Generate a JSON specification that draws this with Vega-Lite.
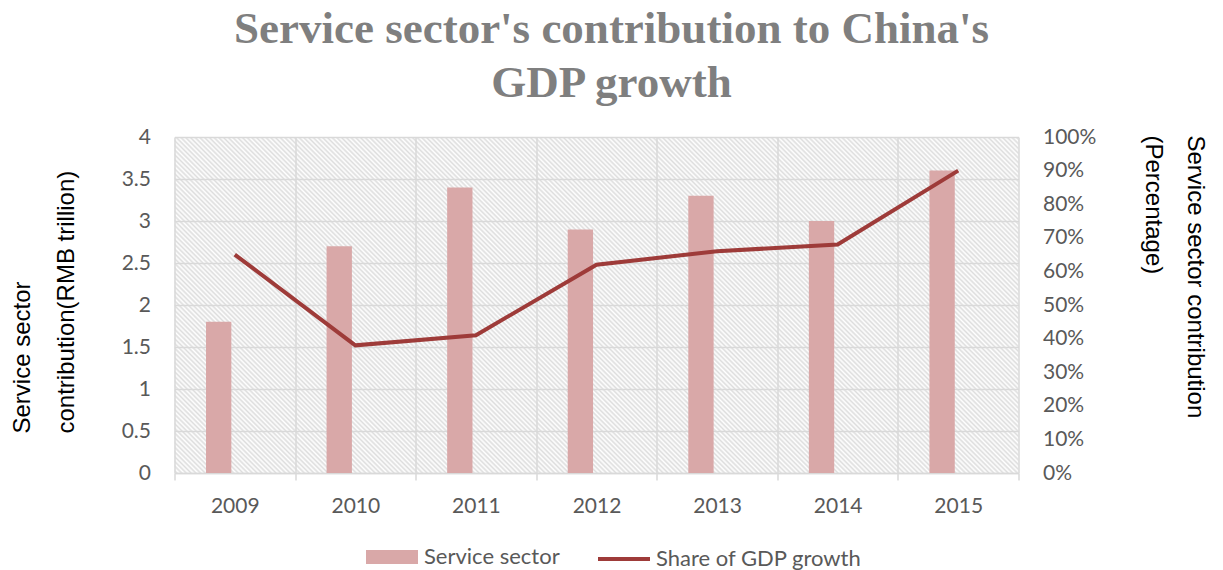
{
  "$schema": "https://vega.github.io/schema/vega-lite/v6.json",
  "width": 844,
  "height": 336,
  "autosize": "none",
  "padding": {"left": 174.5, "top": 137, "right": 204.5, "bottom": 97},
  "background": "#ffffff",
  "title": {
    "text": ["Service sector's contribution to China's", "GDP growth"],
    "font": "Liberation Serif",
    "fontSize": 45,
    "fontWeight": "bold",
    "color": "#7f7f7f",
    "lineHeight": 54,
    "anchor": "middle",
    "frame": "group",
    "dx": 15,
    "offset": 20
  },
  "data": {
    "values": [
      {"year": "2009", "service": 1.8, "share": 0.65},
      {"year": "2010", "service": 2.7, "share": 0.38},
      {"year": "2011", "service": 3.4, "share": 0.41},
      {"year": "2012", "service": 2.9, "share": 0.62},
      {"year": "2013", "service": 3.3, "share": 0.66},
      {"year": "2014", "service": 3.0, "share": 0.68},
      {"year": "2015", "service": 3.6, "share": 0.9}
    ]
  },
  "encoding": {
    "x": {
      "field": "year",
      "type": "nominal",
      "scale": {"paddingInner": 0, "paddingOuter": 0},
      "axis": {
        "title": null,
        "labelAngle": 0,
        "labelFont": "Lato",
        "labelFontSize": 21,
        "labelColor": "#595959",
        "labelPadding": 15,
        "tickBand": "extent",
        "ticks": true,
        "tickSize": 7,
        "tickColor": "#d9d9d9",
        "tickWidth": 1.5,
        "domainColor": "#d9d9d9",
        "domainWidth": 1.5,
        "grid": true,
        "gridColor": "#d9d9d9",
        "gridWidth": 1.5
      }
    }
  },
  "layer": [
    {
      "mark": {"type": "bar"},
      "encoding": {
        "xOffset": {
          "datum": "Service sector",
          "scale": {"domain": ["Service sector", "Share of GDP growth"], "paddingInner": 0.214, "paddingOuter": 0.978}
        },
        "y": {
          "field": "service",
          "type": "quantitative",
          "scale": {"domain": [0, 4], "nice": false},
          "axis": {
            "values": [0, 0.5, 1, 1.5, 2, 2.5, 3, 3.5, 4],
            "format": "~g",
            "orient": "left",
            "domain": false,
            "ticks": false,
            "tickSize": 0,
            "labelPadding": 24,
            "labelFont": "Lato",
            "labelFontSize": 21,
            "labelColor": "#595959",
            "grid": true,
            "gridColor": "#d9d9d9",
            "gridWidth": 1.5,
            "title": ["Service sector", "contribution(RMB trillion)"],
            "titleFont": "Liberation Sans",
            "titleFontSize": 24,
            "titleFontWeight": "normal",
            "titleColor": "#000000",
            "titleAngle": -90,
            "titleAlign": "left",
            "titleBaseline": "alphabetic",
            "titleLineHeight": 44,
            "titleX": -145.5,
            "titleY": 296
          }
        },
        "color": {
          "datum": "Service sector",
          "scale": {"domain": ["Service sector"], "range": ["#d9a8a8"]},
          "legend": {
            "title": null,
            "orient": "none",
            "legendX": 191.5,
            "legendY": 394,
            "padding": 0,
            "symbolType": "M-1,-0.27L1,-0.27L1,0.27L-1,0.27Z",
            "symbolSize": 2704,
            "symbolStrokeWidth": 0,
            "labelFont": "Lato",
            "labelFontSize": 22,
            "labelColor": "#595959",
            "labelOffset": 6,
            "labelLimit": 400
          }
        }
      }
    },
    {
      "mark": {"type": "line", "strokeWidth": 4},
      "encoding": {
        "y": {
          "field": "share",
          "type": "quantitative",
          "scale": {"domain": [0, 1], "nice": false},
          "axis": {
            "values": [0, 0.1, 0.2, 0.3, 0.4, 0.5, 0.6, 0.7, 0.8, 0.9, 1],
            "format": ".0%",
            "orient": "right",
            "domain": false,
            "ticks": false,
            "tickSize": 0,
            "grid": false,
            "labelPadding": 24,
            "labelFont": "Lato",
            "labelFontSize": 21,
            "labelColor": "#595959",
            "title": ["Service sector contribution", "(Percentage)"],
            "titleFont": "Liberation Sans",
            "titleFontSize": 24,
            "titleFontWeight": "normal",
            "titleColor": "#000000",
            "titleAngle": 90,
            "titleAlign": "left",
            "titleBaseline": "alphabetic",
            "titleLineHeight": 42,
            "titleX": 169,
            "titleY": -2
          }
        },
        "stroke": {
          "datum": "Share of GDP growth",
          "scale": {"domain": ["Share of GDP growth"], "range": ["#9e3b39"]},
          "legend": {
            "title": null,
            "orient": "none",
            "legendX": 421.5,
            "legendY": 394,
            "padding": 0,
            "symbolType": "stroke",
            "symbolSize": 2704,
            "symbolStrokeWidth": 4,
            "labelFont": "Lato",
            "labelFontSize": 22,
            "labelColor": "#595959",
            "labelOffset": 4,
            "labelLimit": 400
          }
        }
      }
    }
  ],
  "resolve": {"scale": {"y": "independent"}},
  "config": {
    "view": {
      "stroke": null,
      "fill": {
        "gradient": "linear",
        "x1": 0, "y1": 1, "x2": 1.207, "y2": 0.519,
        "stops": [
{"offset":0,"color":"#fff"},{"offset":0.002,"color":"#ddd"},{"offset":0.004,"color":"#fff"},{"offset":0.006,"color":"#ddd"},{"offset":0.008,"color":"#fff"},{"offset":0.01,"color":"#ddd"},{"offset":0.012,"color":"#fff"},{"offset":0.014,"color":"#ddd"},{"offset":0.016,"color":"#fff"},{"offset":0.018,"color":"#ddd"},
{"offset":0.02,"color":"#fff"},{"offset":0.022,"color":"#ddd"},{"offset":0.024,"color":"#fff"},{"offset":0.026,"color":"#ddd"},{"offset":0.028,"color":"#fff"},{"offset":0.03,"color":"#ddd"},{"offset":0.032,"color":"#fff"},{"offset":0.034,"color":"#ddd"},{"offset":0.036,"color":"#fff"},{"offset":0.038,"color":"#ddd"},
{"offset":0.04,"color":"#fff"},{"offset":0.042,"color":"#ddd"},{"offset":0.044,"color":"#fff"},{"offset":0.046,"color":"#ddd"},{"offset":0.048,"color":"#fff"},{"offset":0.05,"color":"#ddd"},{"offset":0.052,"color":"#fff"},{"offset":0.054,"color":"#ddd"},{"offset":0.056,"color":"#fff"},{"offset":0.058,"color":"#ddd"},
{"offset":0.06,"color":"#fff"},{"offset":0.062,"color":"#ddd"},{"offset":0.064,"color":"#fff"},{"offset":0.066,"color":"#ddd"},{"offset":0.068,"color":"#fff"},{"offset":0.07,"color":"#ddd"},{"offset":0.072,"color":"#fff"},{"offset":0.074,"color":"#ddd"},{"offset":0.076,"color":"#fff"},{"offset":0.078,"color":"#ddd"},
{"offset":0.08,"color":"#fff"},{"offset":0.082,"color":"#ddd"},{"offset":0.084,"color":"#fff"},{"offset":0.086,"color":"#ddd"},{"offset":0.088,"color":"#fff"},{"offset":0.09,"color":"#ddd"},{"offset":0.092,"color":"#fff"},{"offset":0.094,"color":"#ddd"},{"offset":0.096,"color":"#fff"},{"offset":0.098,"color":"#ddd"},
{"offset":0.1,"color":"#fff"},{"offset":0.102,"color":"#ddd"},{"offset":0.104,"color":"#fff"},{"offset":0.106,"color":"#ddd"},{"offset":0.108,"color":"#fff"},{"offset":0.11,"color":"#ddd"},{"offset":0.112,"color":"#fff"},{"offset":0.114,"color":"#ddd"},{"offset":0.116,"color":"#fff"},{"offset":0.118,"color":"#ddd"},
{"offset":0.12,"color":"#fff"},{"offset":0.122,"color":"#ddd"},{"offset":0.124,"color":"#fff"},{"offset":0.126,"color":"#ddd"},{"offset":0.128,"color":"#fff"},{"offset":0.13,"color":"#ddd"},{"offset":0.132,"color":"#fff"},{"offset":0.134,"color":"#ddd"},{"offset":0.136,"color":"#fff"},{"offset":0.138,"color":"#ddd"},
{"offset":0.14,"color":"#fff"},{"offset":0.142,"color":"#ddd"},{"offset":0.144,"color":"#fff"},{"offset":0.146,"color":"#ddd"},{"offset":0.148,"color":"#fff"},{"offset":0.15,"color":"#ddd"},{"offset":0.152,"color":"#fff"},{"offset":0.154,"color":"#ddd"},{"offset":0.156,"color":"#fff"},{"offset":0.158,"color":"#ddd"},
{"offset":0.16,"color":"#fff"},{"offset":0.162,"color":"#ddd"},{"offset":0.164,"color":"#fff"},{"offset":0.166,"color":"#ddd"},{"offset":0.168,"color":"#fff"},{"offset":0.17,"color":"#ddd"},{"offset":0.172,"color":"#fff"},{"offset":0.174,"color":"#ddd"},{"offset":0.176,"color":"#fff"},{"offset":0.178,"color":"#ddd"},
{"offset":0.18,"color":"#fff"},{"offset":0.182,"color":"#ddd"},{"offset":0.184,"color":"#fff"},{"offset":0.186,"color":"#ddd"},{"offset":0.188,"color":"#fff"},{"offset":0.19,"color":"#ddd"},{"offset":0.192,"color":"#fff"},{"offset":0.194,"color":"#ddd"},{"offset":0.196,"color":"#fff"},{"offset":0.198,"color":"#ddd"},
{"offset":0.2,"color":"#fff"},{"offset":0.202,"color":"#ddd"},{"offset":0.204,"color":"#fff"},{"offset":0.206,"color":"#ddd"},{"offset":0.208,"color":"#fff"},{"offset":0.21,"color":"#ddd"},{"offset":0.212,"color":"#fff"},{"offset":0.214,"color":"#ddd"},{"offset":0.216,"color":"#fff"},{"offset":0.218,"color":"#ddd"},
{"offset":0.22,"color":"#fff"},{"offset":0.222,"color":"#ddd"},{"offset":0.224,"color":"#fff"},{"offset":0.226,"color":"#ddd"},{"offset":0.228,"color":"#fff"},{"offset":0.23,"color":"#ddd"},{"offset":0.232,"color":"#fff"},{"offset":0.234,"color":"#ddd"},{"offset":0.236,"color":"#fff"},{"offset":0.238,"color":"#ddd"},
{"offset":0.24,"color":"#fff"},{"offset":0.242,"color":"#ddd"},{"offset":0.244,"color":"#fff"},{"offset":0.246,"color":"#ddd"},{"offset":0.248,"color":"#fff"},{"offset":0.25,"color":"#ddd"},{"offset":0.252,"color":"#fff"},{"offset":0.254,"color":"#ddd"},{"offset":0.256,"color":"#fff"},{"offset":0.258,"color":"#ddd"},
{"offset":0.26,"color":"#fff"},{"offset":0.262,"color":"#ddd"},{"offset":0.264,"color":"#fff"},{"offset":0.266,"color":"#ddd"},{"offset":0.268,"color":"#fff"},{"offset":0.27,"color":"#ddd"},{"offset":0.272,"color":"#fff"},{"offset":0.274,"color":"#ddd"},{"offset":0.276,"color":"#fff"},{"offset":0.278,"color":"#ddd"},
{"offset":0.28,"color":"#fff"},{"offset":0.282,"color":"#ddd"},{"offset":0.284,"color":"#fff"},{"offset":0.286,"color":"#ddd"},{"offset":0.288,"color":"#fff"},{"offset":0.29,"color":"#ddd"},{"offset":0.292,"color":"#fff"},{"offset":0.294,"color":"#ddd"},{"offset":0.296,"color":"#fff"},{"offset":0.298,"color":"#ddd"},
{"offset":0.3,"color":"#fff"},{"offset":0.302,"color":"#ddd"},{"offset":0.304,"color":"#fff"},{"offset":0.306,"color":"#ddd"},{"offset":0.308,"color":"#fff"},{"offset":0.31,"color":"#ddd"},{"offset":0.312,"color":"#fff"},{"offset":0.314,"color":"#ddd"},{"offset":0.316,"color":"#fff"},{"offset":0.318,"color":"#ddd"},
{"offset":0.32,"color":"#fff"},{"offset":0.322,"color":"#ddd"},{"offset":0.324,"color":"#fff"},{"offset":0.326,"color":"#ddd"},{"offset":0.328,"color":"#fff"},{"offset":0.33,"color":"#ddd"},{"offset":0.332,"color":"#fff"},{"offset":0.334,"color":"#ddd"},{"offset":0.336,"color":"#fff"},{"offset":0.338,"color":"#ddd"},
{"offset":0.34,"color":"#fff"},{"offset":0.342,"color":"#ddd"},{"offset":0.344,"color":"#fff"},{"offset":0.346,"color":"#ddd"},{"offset":0.348,"color":"#fff"},{"offset":0.35,"color":"#ddd"},{"offset":0.352,"color":"#fff"},{"offset":0.354,"color":"#ddd"},{"offset":0.356,"color":"#fff"},{"offset":0.358,"color":"#ddd"},
{"offset":0.36,"color":"#fff"},{"offset":0.362,"color":"#ddd"},{"offset":0.364,"color":"#fff"},{"offset":0.366,"color":"#ddd"},{"offset":0.368,"color":"#fff"},{"offset":0.37,"color":"#ddd"},{"offset":0.372,"color":"#fff"},{"offset":0.374,"color":"#ddd"},{"offset":0.376,"color":"#fff"},{"offset":0.378,"color":"#ddd"},
{"offset":0.38,"color":"#fff"},{"offset":0.382,"color":"#ddd"},{"offset":0.384,"color":"#fff"},{"offset":0.386,"color":"#ddd"},{"offset":0.388,"color":"#fff"},{"offset":0.39,"color":"#ddd"},{"offset":0.392,"color":"#fff"},{"offset":0.394,"color":"#ddd"},{"offset":0.396,"color":"#fff"},{"offset":0.398,"color":"#ddd"},
{"offset":0.4,"color":"#fff"},{"offset":0.402,"color":"#ddd"},{"offset":0.404,"color":"#fff"},{"offset":0.406,"color":"#ddd"},{"offset":0.408,"color":"#fff"},{"offset":0.41,"color":"#ddd"},{"offset":0.412,"color":"#fff"},{"offset":0.414,"color":"#ddd"},{"offset":0.416,"color":"#fff"},{"offset":0.418,"color":"#ddd"},
{"offset":0.42,"color":"#fff"},{"offset":0.422,"color":"#ddd"},{"offset":0.424,"color":"#fff"},{"offset":0.426,"color":"#ddd"},{"offset":0.428,"color":"#fff"},{"offset":0.43,"color":"#ddd"},{"offset":0.432,"color":"#fff"},{"offset":0.434,"color":"#ddd"},{"offset":0.436,"color":"#fff"},{"offset":0.438,"color":"#ddd"},
{"offset":0.44,"color":"#fff"},{"offset":0.442,"color":"#ddd"},{"offset":0.444,"color":"#fff"},{"offset":0.446,"color":"#ddd"},{"offset":0.448,"color":"#fff"},{"offset":0.45,"color":"#ddd"},{"offset":0.452,"color":"#fff"},{"offset":0.454,"color":"#ddd"},{"offset":0.456,"color":"#fff"},{"offset":0.458,"color":"#ddd"},
{"offset":0.46,"color":"#fff"},{"offset":0.462,"color":"#ddd"},{"offset":0.464,"color":"#fff"},{"offset":0.466,"color":"#ddd"},{"offset":0.468,"color":"#fff"},{"offset":0.47,"color":"#ddd"},{"offset":0.472,"color":"#fff"},{"offset":0.474,"color":"#ddd"},{"offset":0.476,"color":"#fff"},{"offset":0.478,"color":"#ddd"},
{"offset":0.48,"color":"#fff"},{"offset":0.482,"color":"#ddd"},{"offset":0.484,"color":"#fff"},{"offset":0.486,"color":"#ddd"},{"offset":0.488,"color":"#fff"},{"offset":0.49,"color":"#ddd"},{"offset":0.492,"color":"#fff"},{"offset":0.494,"color":"#ddd"},{"offset":0.496,"color":"#fff"},{"offset":0.498,"color":"#ddd"},
{"offset":0.5,"color":"#fff"},{"offset":0.502,"color":"#ddd"},{"offset":0.504,"color":"#fff"},{"offset":0.506,"color":"#ddd"},{"offset":0.508,"color":"#fff"},{"offset":0.51,"color":"#ddd"},{"offset":0.512,"color":"#fff"},{"offset":0.514,"color":"#ddd"},{"offset":0.516,"color":"#fff"},{"offset":0.518,"color":"#ddd"},
{"offset":0.52,"color":"#fff"},{"offset":0.522,"color":"#ddd"},{"offset":0.524,"color":"#fff"},{"offset":0.526,"color":"#ddd"},{"offset":0.528,"color":"#fff"},{"offset":0.53,"color":"#ddd"},{"offset":0.532,"color":"#fff"},{"offset":0.534,"color":"#ddd"},{"offset":0.536,"color":"#fff"},{"offset":0.538,"color":"#ddd"},
{"offset":0.54,"color":"#fff"},{"offset":0.542,"color":"#ddd"},{"offset":0.544,"color":"#fff"},{"offset":0.546,"color":"#ddd"},{"offset":0.548,"color":"#fff"},{"offset":0.55,"color":"#ddd"},{"offset":0.552,"color":"#fff"},{"offset":0.554,"color":"#ddd"},{"offset":0.556,"color":"#fff"},{"offset":0.558,"color":"#ddd"},
{"offset":0.56,"color":"#fff"},{"offset":0.562,"color":"#ddd"},{"offset":0.564,"color":"#fff"},{"offset":0.566,"color":"#ddd"},{"offset":0.568,"color":"#fff"},{"offset":0.57,"color":"#ddd"},{"offset":0.572,"color":"#fff"},{"offset":0.574,"color":"#ddd"},{"offset":0.576,"color":"#fff"},{"offset":0.578,"color":"#ddd"},
{"offset":0.58,"color":"#fff"},{"offset":0.582,"color":"#ddd"},{"offset":0.584,"color":"#fff"},{"offset":0.586,"color":"#ddd"},{"offset":0.588,"color":"#fff"},{"offset":0.59,"color":"#ddd"},{"offset":0.592,"color":"#fff"},{"offset":0.594,"color":"#ddd"},{"offset":0.596,"color":"#fff"},{"offset":0.598,"color":"#ddd"},
{"offset":0.6,"color":"#fff"},{"offset":0.602,"color":"#ddd"},{"offset":0.604,"color":"#fff"},{"offset":0.606,"color":"#ddd"},{"offset":0.608,"color":"#fff"},{"offset":0.61,"color":"#ddd"},{"offset":0.612,"color":"#fff"},{"offset":0.614,"color":"#ddd"},{"offset":0.616,"color":"#fff"},{"offset":0.618,"color":"#ddd"},
{"offset":0.62,"color":"#fff"},{"offset":0.622,"color":"#ddd"},{"offset":0.624,"color":"#fff"},{"offset":0.626,"color":"#ddd"},{"offset":0.628,"color":"#fff"},{"offset":0.63,"color":"#ddd"},{"offset":0.632,"color":"#fff"},{"offset":0.634,"color":"#ddd"},{"offset":0.636,"color":"#fff"},{"offset":0.638,"color":"#ddd"},
{"offset":0.64,"color":"#fff"},{"offset":0.642,"color":"#ddd"},{"offset":0.644,"color":"#fff"},{"offset":0.646,"color":"#ddd"},{"offset":0.648,"color":"#fff"},{"offset":0.65,"color":"#ddd"},{"offset":0.652,"color":"#fff"},{"offset":0.654,"color":"#ddd"},{"offset":0.656,"color":"#fff"},{"offset":0.658,"color":"#ddd"},
{"offset":0.66,"color":"#fff"},{"offset":0.662,"color":"#ddd"},{"offset":0.664,"color":"#fff"},{"offset":0.666,"color":"#ddd"},{"offset":0.668,"color":"#fff"},{"offset":0.67,"color":"#ddd"},{"offset":0.672,"color":"#fff"},{"offset":0.674,"color":"#ddd"},{"offset":0.676,"color":"#fff"},{"offset":0.678,"color":"#ddd"},
{"offset":0.68,"color":"#fff"},{"offset":0.682,"color":"#ddd"},{"offset":0.684,"color":"#fff"},{"offset":0.686,"color":"#ddd"},{"offset":0.688,"color":"#fff"},{"offset":0.69,"color":"#ddd"},{"offset":0.692,"color":"#fff"},{"offset":0.694,"color":"#ddd"},{"offset":0.696,"color":"#fff"},{"offset":0.698,"color":"#ddd"},
{"offset":0.7,"color":"#fff"},{"offset":0.702,"color":"#ddd"},{"offset":0.704,"color":"#fff"},{"offset":0.706,"color":"#ddd"},{"offset":0.708,"color":"#fff"},{"offset":0.71,"color":"#ddd"},{"offset":0.712,"color":"#fff"},{"offset":0.714,"color":"#ddd"},{"offset":0.716,"color":"#fff"},{"offset":0.718,"color":"#ddd"},
{"offset":0.72,"color":"#fff"},{"offset":0.722,"color":"#ddd"},{"offset":0.724,"color":"#fff"},{"offset":0.726,"color":"#ddd"},{"offset":0.728,"color":"#fff"},{"offset":0.73,"color":"#ddd"},{"offset":0.732,"color":"#fff"},{"offset":0.734,"color":"#ddd"},{"offset":0.736,"color":"#fff"},{"offset":0.738,"color":"#ddd"},
{"offset":0.74,"color":"#fff"},{"offset":0.742,"color":"#ddd"},{"offset":0.744,"color":"#fff"},{"offset":0.746,"color":"#ddd"},{"offset":0.748,"color":"#fff"},{"offset":0.75,"color":"#ddd"},{"offset":0.752,"color":"#fff"},{"offset":0.754,"color":"#ddd"},{"offset":0.756,"color":"#fff"},{"offset":0.758,"color":"#ddd"},
{"offset":0.76,"color":"#fff"},{"offset":0.762,"color":"#ddd"},{"offset":0.764,"color":"#fff"},{"offset":0.766,"color":"#ddd"},{"offset":0.768,"color":"#fff"},{"offset":0.77,"color":"#ddd"},{"offset":0.772,"color":"#fff"},{"offset":0.774,"color":"#ddd"},{"offset":0.776,"color":"#fff"},{"offset":0.778,"color":"#ddd"},
{"offset":0.78,"color":"#fff"},{"offset":0.782,"color":"#ddd"},{"offset":0.784,"color":"#fff"},{"offset":0.786,"color":"#ddd"},{"offset":0.788,"color":"#fff"},{"offset":0.79,"color":"#ddd"},{"offset":0.792,"color":"#fff"},{"offset":0.794,"color":"#ddd"},{"offset":0.796,"color":"#fff"},{"offset":0.798,"color":"#ddd"},
{"offset":0.8,"color":"#fff"},{"offset":0.802,"color":"#ddd"},{"offset":0.804,"color":"#fff"},{"offset":0.806,"color":"#ddd"},{"offset":0.808,"color":"#fff"},{"offset":0.81,"color":"#ddd"},{"offset":0.812,"color":"#fff"},{"offset":0.814,"color":"#ddd"},{"offset":0.816,"color":"#fff"},{"offset":0.818,"color":"#ddd"},
{"offset":0.82,"color":"#fff"},{"offset":0.822,"color":"#ddd"},{"offset":0.824,"color":"#fff"},{"offset":0.826,"color":"#ddd"},{"offset":0.828,"color":"#fff"},{"offset":0.83,"color":"#ddd"},{"offset":0.832,"color":"#fff"},{"offset":0.834,"color":"#ddd"},{"offset":0.836,"color":"#fff"},{"offset":0.838,"color":"#ddd"},
{"offset":0.84,"color":"#fff"},{"offset":0.842,"color":"#ddd"},{"offset":0.844,"color":"#fff"},{"offset":0.846,"color":"#ddd"},{"offset":0.848,"color":"#fff"},{"offset":0.85,"color":"#ddd"},{"offset":0.852,"color":"#fff"},{"offset":0.854,"color":"#ddd"},{"offset":0.856,"color":"#fff"},{"offset":0.858,"color":"#ddd"},
{"offset":0.86,"color":"#fff"},{"offset":0.862,"color":"#ddd"},{"offset":0.864,"color":"#fff"},{"offset":0.866,"color":"#ddd"},{"offset":0.868,"color":"#fff"},{"offset":0.87,"color":"#ddd"},{"offset":0.872,"color":"#fff"},{"offset":0.874,"color":"#ddd"},{"offset":0.876,"color":"#fff"},{"offset":0.878,"color":"#ddd"},
{"offset":0.88,"color":"#fff"},{"offset":0.882,"color":"#ddd"},{"offset":0.884,"color":"#fff"},{"offset":0.886,"color":"#ddd"},{"offset":0.888,"color":"#fff"},{"offset":0.89,"color":"#ddd"},{"offset":0.892,"color":"#fff"},{"offset":0.894,"color":"#ddd"},{"offset":0.896,"color":"#fff"},{"offset":0.898,"color":"#ddd"},
{"offset":0.9,"color":"#fff"},{"offset":0.902,"color":"#ddd"},{"offset":0.904,"color":"#fff"},{"offset":0.906,"color":"#ddd"},{"offset":0.908,"color":"#fff"},{"offset":0.91,"color":"#ddd"},{"offset":0.912,"color":"#fff"},{"offset":0.914,"color":"#ddd"},{"offset":0.916,"color":"#fff"},{"offset":0.918,"color":"#ddd"},
{"offset":0.92,"color":"#fff"},{"offset":0.922,"color":"#ddd"},{"offset":0.924,"color":"#fff"},{"offset":0.926,"color":"#ddd"},{"offset":0.928,"color":"#fff"},{"offset":0.93,"color":"#ddd"},{"offset":0.932,"color":"#fff"},{"offset":0.934,"color":"#ddd"},{"offset":0.936,"color":"#fff"},{"offset":0.938,"color":"#ddd"},
{"offset":0.94,"color":"#fff"},{"offset":0.942,"color":"#ddd"},{"offset":0.944,"color":"#fff"},{"offset":0.946,"color":"#ddd"},{"offset":0.948,"color":"#fff"},{"offset":0.95,"color":"#ddd"},{"offset":0.952,"color":"#fff"},{"offset":0.954,"color":"#ddd"},{"offset":0.956,"color":"#fff"},{"offset":0.958,"color":"#ddd"},
{"offset":0.96,"color":"#fff"},{"offset":0.962,"color":"#ddd"},{"offset":0.964,"color":"#fff"},{"offset":0.966,"color":"#ddd"},{"offset":0.968,"color":"#fff"},{"offset":0.97,"color":"#ddd"},{"offset":0.972,"color":"#fff"},{"offset":0.974,"color":"#ddd"},{"offset":0.976,"color":"#fff"},{"offset":0.978,"color":"#ddd"},
{"offset":0.98,"color":"#fff"},{"offset":0.982,"color":"#ddd"},{"offset":0.984,"color":"#fff"},{"offset":0.986,"color":"#ddd"},{"offset":0.988,"color":"#fff"},{"offset":0.99,"color":"#ddd"},{"offset":0.992,"color":"#fff"},{"offset":0.994,"color":"#ddd"},{"offset":0.996,"color":"#fff"},{"offset":0.998,"color":"#ddd"},
{"offset":1,"color":"#fff"}
        ]
      }
    }
  }
}
